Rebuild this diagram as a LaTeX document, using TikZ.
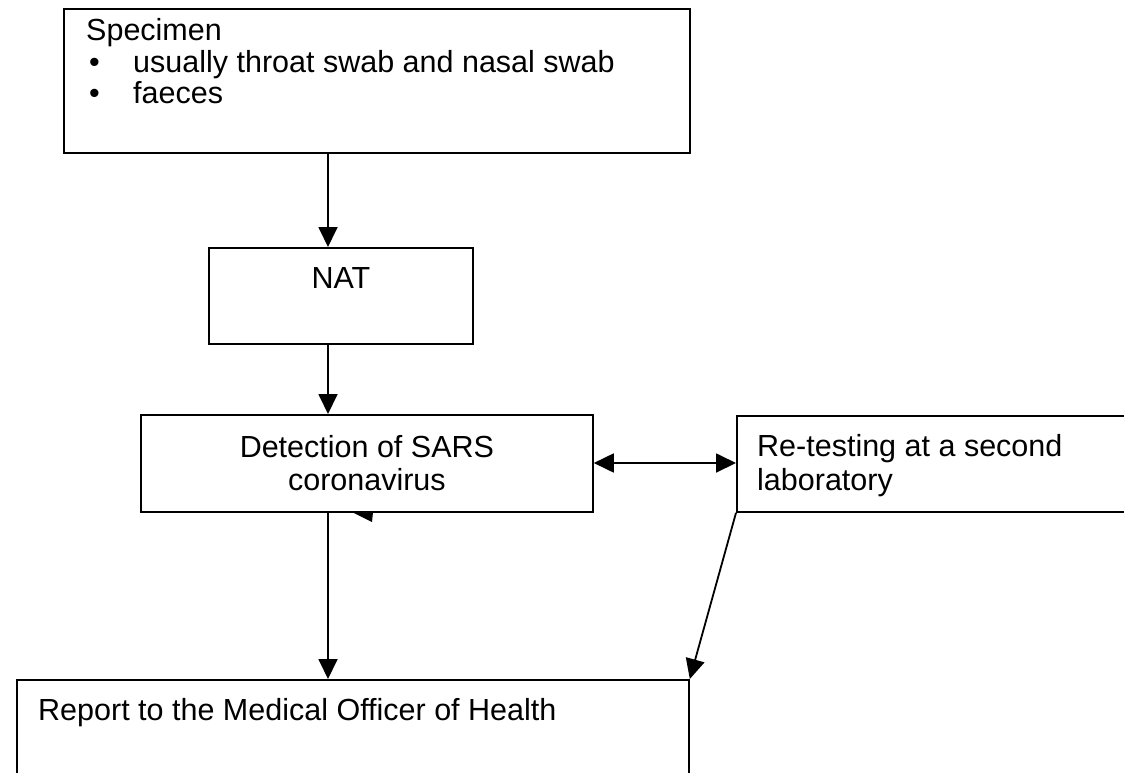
\documentclass[tikz,border=0pt]{standalone}
\usepackage{fontspec}
\setmainfont{Liberation Sans}
\usetikzlibrary{arrows.meta}
\begin{document}
\begin{tikzpicture}[x=1pt,y=-1pt,
  box/.style={draw, line width=1.8pt, fill=white, inner sep=0pt, anchor=north west},
  conn/.style={line width=1.8pt, -{Triangle[length=20pt,width=19pt]}},
  dconn/.style={line width=1.8pt, {Triangle[length=20pt,width=19pt]}-{Triangle[length=20pt,width=19pt]}},
  lbl/.style={font=\fontsize{30.5}{34}\selectfont, inner sep=0pt, anchor=base west},
  clbl/.style={font=\fontsize{30.5}{34}\selectfont, inner sep=0pt, anchor=base}]
\useasboundingbox (0,0) rectangle (1124,772);
\clip (0,0) rectangle (1124,772);
\fill[white] (0,0) rectangle (1124,772);
% boxes
\node[box, line width=2.4pt, minimum width=626pt, minimum height=144pt] (spec) at (63,8) {};
\node[box, minimum width=264pt, minimum height=96pt] (nat) at (208,247) {};
\node[box, minimum width=452pt, minimum height=97pt] (det) at (140,414) {};
\node[box, minimum width=420pt, minimum height=96pt] (ret) at (736,415) {};
\node[box, minimum width=672pt, minimum height=140pt] (rep) at (16,679) {};
% texts
\node[lbl] (t1) at (86,40) {Specimen};
\node[lbl] (b1) at (89,72) {\textbullet};
\node[lbl] (t2) at (133,72) {usually throat swab and nasal swab};
\node[lbl] (b2) at (89,103) {\textbullet};
\node[lbl] (t3) at (133,103) {faeces};
\node[clbl] (t4) at (nat.center |- 0,288) {NAT};
\node[clbl] (t5) at (det.center |- 0,457) {Detection of SARS};
\node[clbl] (t6) at (det.center |- 0,490) {coronavirus};
\node[lbl] (t7) at (757,456) {Re-testing at a second};
\node[lbl] (t8) at (757,490) {laboratory};
\node[lbl] (t9) at (38,720) {Report to the Medical Officer of Health};
% connectors
\coordinate (ax) at (328,0);
\coordinate (ay) at (0,463);
\draw[conn] (spec.south -| ax) -- (nat.north -| ax);
\draw[conn] (nat.south -| ax) -- (det.north -| ax);
\draw[dconn] (det.east |- ay) -- (ret.west |- ay);
\draw[conn] (det.south -| ax) -- (rep.north -| ax);
\draw[conn] (ret.south west) -- (rep.north east);
\fill (352,512) -- (373,512) -- (372,522) -- cycle;
\end{tikzpicture}
\end{document}
